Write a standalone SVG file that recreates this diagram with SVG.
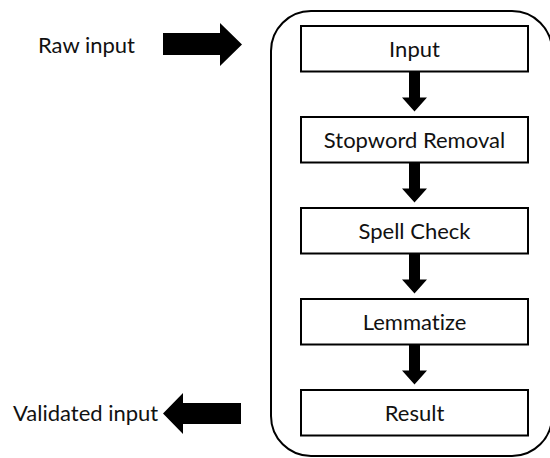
<svg xmlns="http://www.w3.org/2000/svg" xmlns:xlink="http://www.w3.org/1999/xlink" width="550" height="458" viewBox="0 0 550 458">
  <style>
    .frame { fill: none; stroke: #000; stroke-width: 2; }
    .box { fill: #fff; stroke: #000; stroke-width: 2; }
    .label { font-family: Lato, "Open Sans", "Liberation Sans", sans-serif; font-size: 22px; fill: #111; font-variant-ligatures: none; }
    .mid { text-anchor: middle; }
    .block { fill: #000; stroke: none; }
  </style>
  <defs>
    <!-- thick block arrow pointing down, origin at the top of the shaft -->
    <path id="down" d="M-5.5,0 H5.5 V26 H12.5 L0,40 L-12.5,26 H-5.5 Z"/>
  </defs>

  <rect width="550" height="458" fill="#fff"/>

  <!-- pipeline container -->
  <g id="pipeline">
    <rect class="frame" x="271" y="11" width="281" height="445" rx="40" ry="40"/>
  </g>

  <g id="connectors">
    <polygon class="block" points="163,33 220,33 220,23 242,44.5 220,66 220,55 163,55"/>
    <polygon class="block" points="241,403 183,403 183,393 163,413.5 183,434 183,424 241,424"/>
    <use xlink:href="#down" class="block" transform="translate(414.5,71.5)"/>
    <use xlink:href="#down" class="block" transform="translate(414.5,162.5)"/>
    <use xlink:href="#down" class="block" transform="translate(414.5,253.5)"/>
    <use xlink:href="#down" class="block" transform="translate(414.5,344.5)"/>
  </g>

  <g id="raw-input">
    <text class="label" x="38" y="53">Raw input</text>
  </g>
  <g id="validated-input">
    <text class="label" x="13" y="421">Validated input</text>
  </g>

  <g id="input">
    <rect class="box" x="301" y="26" width="227" height="45.5"/>
    <text class="label mid" x="414.5" y="57">Input</text>
  </g>
  <g id="stopword-removal">
    <rect class="box" x="301" y="117" width="227" height="45.5"/>
    <text class="label mid" x="414.5" y="148">Stopword Removal</text>
  </g>
  <g id="spell-check">
    <rect class="box" x="301" y="208" width="227" height="45.5"/>
    <text class="label mid" x="414.5" y="239">Spell Check</text>
  </g>
  <g id="lemmatize">
    <rect class="box" x="301" y="299" width="227" height="45.5"/>
    <text class="label mid" x="414.5" y="330">Lemmatize</text>
  </g>
  <g id="result">
    <rect class="box" x="301" y="390" width="227" height="45.5"/>
    <text class="label mid" x="414.5" y="421">Result</text>
  </g>
</svg>
